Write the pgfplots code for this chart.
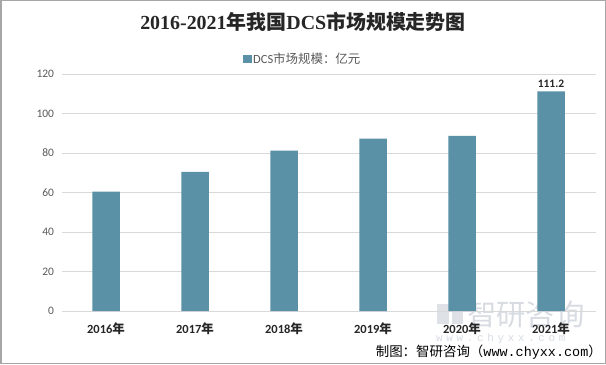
\documentclass[border=0pt]{standalone}
\usepackage{fontspec}
\usepackage{pgfplots}
\pgfplotsset{compat=1.18}
\setmainfont{Carlito}
\newfontfamily\cjk{Noto Sans CJK SC}
\newfontfamily\serifl{Liberation Serif}
\newfontfamily\monol{Liberation Mono}
\definecolor{barc}{RGB}{91,145,167}
\definecolor{gridc}{RGB}{217,217,217}
\definecolor{tickc}{RGB}{89,89,89}
\definecolor{framec}{RGB}{166,166,166}
\definecolor{wmc}{RGB}{190,198,208}
\begin{document}
\begin{tikzpicture}[x=1bp,y=1bp]
\fill[white] (0,0) rectangle (606,364);
\draw[framec, line width=1.5bp] (0.75,0.75) rectangle (605.25,363.25);
% watermark (behind)
\node[anchor=west, font=\fontsize{29.5}{31}\selectfont\cjk, text=wmc, opacity=0.6, inner sep=0pt] at (467,50) {智研咨询};
\node[anchor=west, font=\fontsize{11}{12}\selectfont\monol, text=wmc, opacity=0.6, inner sep=0pt] at (436,25) {w\,\,w\,\,w\,\,.\,\,c\,\,h\,\,y\,\,x\,\,x\,\,.\,\,c\,\,o\,\,m};
\fill[wmc, opacity=0.5] (437,40) rectangle (449,60);
\fill[wmc, opacity=0.5] (452,40) rectangle (463,52);
\begin{axis}[at={(61.5bp,53bp)}, anchor=south west, scale only axis,
  width=534bp, height=237bp,
  ymin=0, ymax=120, xmin=-0.5, xmax=5.5,
  ytick={0,20,...,120}, xtick={0,...,5},
  xticklabels={2016{\cjk 年},2017{\cjk 年},2018{\cjk 年},2019{\cjk 年},2020{\cjk 年},2021{\cjk 年}},
  axis line style={draw=none}, major tick style={draw=none},
  ymajorgrids, grid style={draw=gridc, line width=0.8bp},
  ybar, bar width=27.5bp,
  /pgf/number format/assume math mode=true,
  yticklabel style={font=\fontsize{11.5}{13}\selectfont, text=tickc, xshift=-4bp},
  xticklabel style={font=\fontsize{12.5}{14}\selectfont\bfseries, text=black!85, yshift=-4bp},
]
\addplot[fill=barc, draw=none] coordinates {(0,60.5) (1,70.5) (2,81.2) (3,87.3) (4,88.7) (5,111.2)};
\node[above, font=\fontsize{11.5}{13}\selectfont\bfseries, text=black!85, inner sep=2bp, yshift=2bp] at (axis cs:5,111.2) {111.2};
\end{axis}
% title
\node[font=\fontsize{20}{22}\selectfont\bfseries, text=black!85] at (303,342) {{\serifl 2016-2021}{\cjk 年我国}{\serifl DCS}{\cjk 市场规模走势图}};
% legend
\fill[barc] (243,301) rectangle (251.5,309.5);
\node[anchor=west, font=\fontsize{12.5}{14}\selectfont, text=tickc, inner sep=0pt] at (253,305.5) {DCS{\cjk 市场规模：亿元}};
% footer
\node[anchor=east, font=\fontsize{13.5}{15}\selectfont\cjk, text=black, inner sep=0pt] at (602,12) {制图：智研咨询（{\monol www.chyxx.com}）};
\end{tikzpicture}
\end{document}
